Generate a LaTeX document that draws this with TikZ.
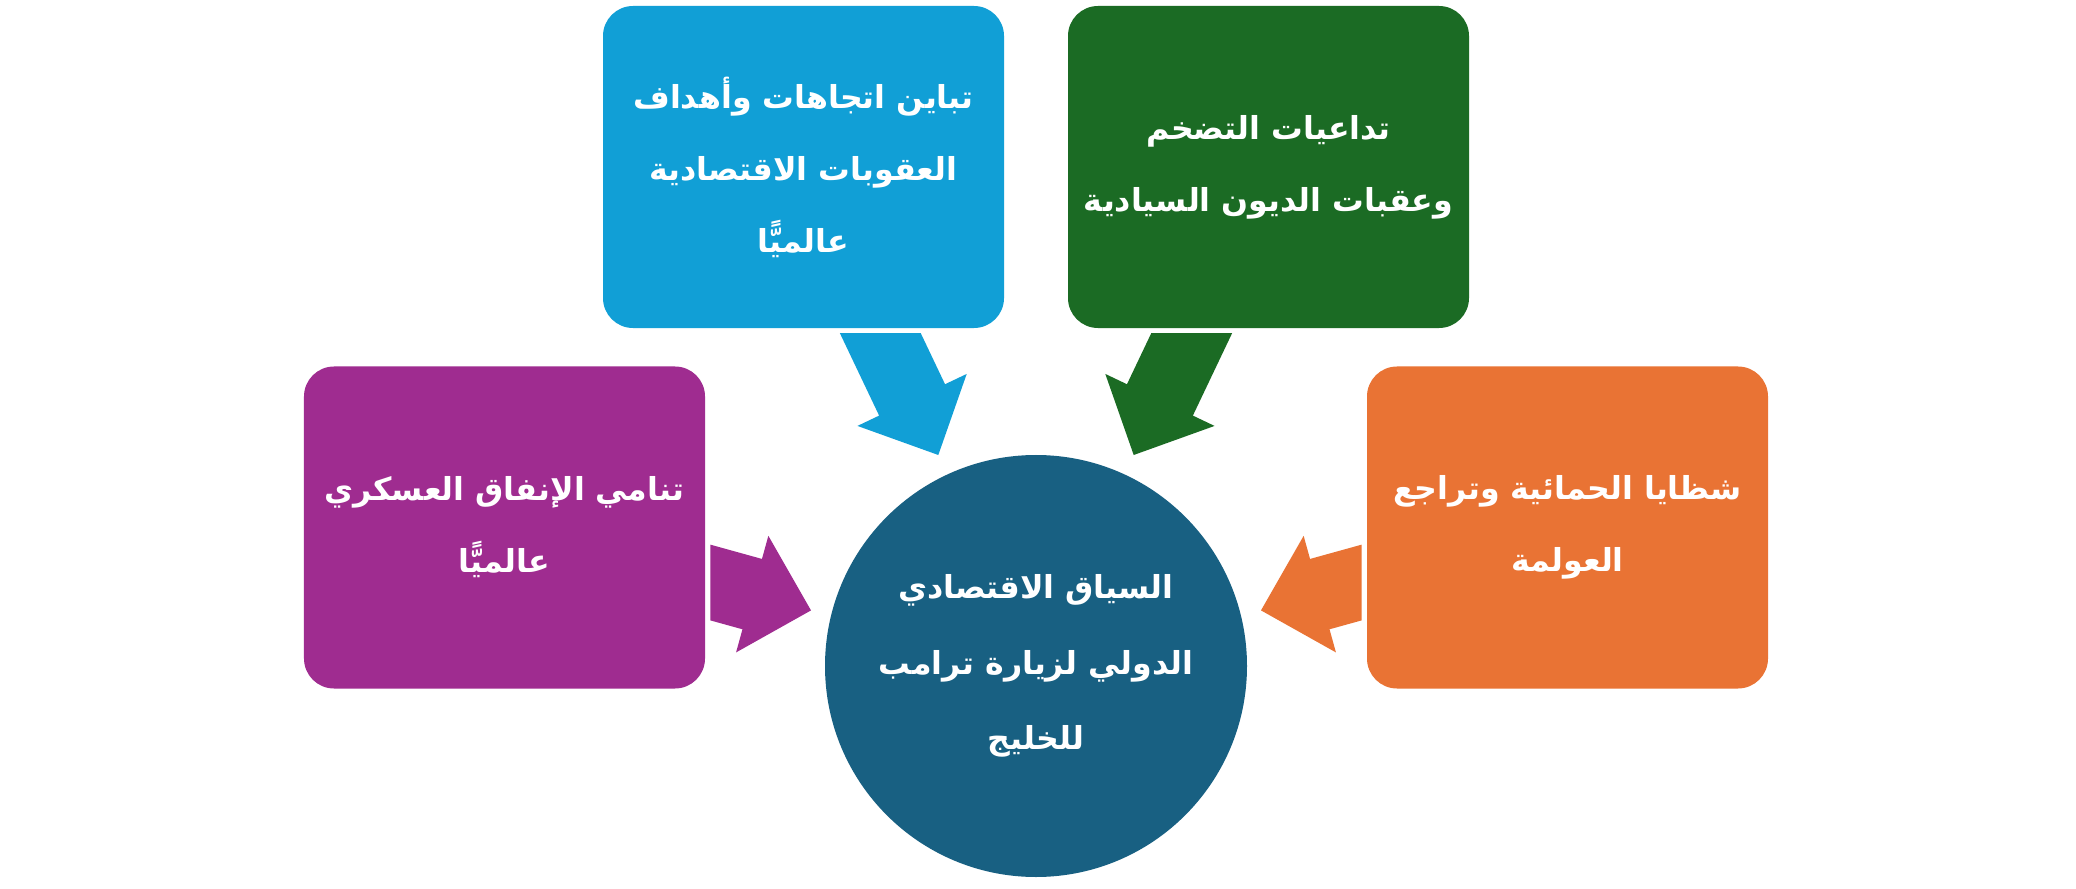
\documentclass[tikz,border=0pt]{standalone}
\usepackage{fontspec}
\usetikzlibrary{calc}
\TeXXeTstate=1
\newfontfamily\arabicfont[Script=Arabic]{DejaVu Sans}
\definecolor{sanccol}{RGB}{17,159,214}
\definecolor{inflcol}{RGB}{27,107,36}
\definecolor{militcol}{RGB}{159,44,144}
\definecolor{globcol}{RGB}{233,115,52}
\definecolor{ctxcol}{RGB}{24,96,130}
\newcommand{\artxt}[1]{\beginR #1\endR}
\newcommand{\shafthw}{7.3mm}
\newcommand{\headhw}{12.1mm}
\newcommand{\headlen}{12.2mm}
% colour, clip corners, tail, tip
\newcommand{\blockarrow}[5]{%
  \begin{scope}
    \clip #2 rectangle #3;
    \coordinate (h) at ($(#5)!\headlen!(#4)$);
    \fill[#1] ($(#4)!\shafthw!90:(#5)$) -- ($(h)!\shafthw!90:(#5)$) -- ($(h)!\headhw!90:(#5)$)
      -- (#5) -- ($(h)!\headhw!-90:(#5)$) -- ($(h)!\shafthw!-90:(#5)$) -- ($(#4)!\shafthw!-90:(#5)$) -- cycle;
  \end{scope}}
\tikzset{
  factor/.style={rectangle, rounded corners=6mm, minimum width=80.2mm, minimum height=64.4mm,
    inner sep=0pt, text=white, align=center, font=\arabicfont\bfseries\fontsize{18}{41}\selectfont},
  hub/.style={circle, fill=ctxcol, minimum size=84.4mm, inner sep=0pt, text=white, align=center,
    font=\arabicfont\bfseries\fontsize{18}{43}\selectfont}
}
\begin{document}
\begin{tikzpicture}[x=0.2mm,y=-0.2mm]
\fill[white] (0,0) rectangle (2076,889);
\useasboundingbox (0,0) rectangle (2076,889);
% centre and the four factors
\node[hub] (ctx) at (1036,666) {\artxt{السياق الاقتصادي}\\ \artxt{الدولي لزيارة ترامب}\\ \artxt{للخليج}};
\node[factor,fill=sanccol] (sanc) at (803.5,167) {\artxt{تباين اتجاهات وأهداف}\\ \artxt{العقوبات الاقتصادية}\\ \artxt{عالميًّا}};
\node[factor,fill=inflcol] (infl) at (1268.5,167) {\artxt{تداعيات التضخم}\\ \artxt{وعقبات الديون السيادية}};
\node[factor,fill=militcol] (milit) at (504.5,527.5) {\artxt{تنامي الإنفاق العسكري}\\ \artxt{عالميًّا}};
\node[factor,fill=globcol] (glob) at (1567.5,527.5) {\artxt{شظايا الحمائية وتراجع}\\ \artxt{العولمة}};
% arrow ends
\coordinate (sanc tail) at (855,280);
\coordinate (sanc tip) at (938.3,455);
\coordinate (infl tail) at (1217,280);
\coordinate (infl tip) at (1133.7,455);
\coordinate (milit tail) at (650,565.8);
\coordinate (milit tip) at (811,610.4);
\coordinate (glob tail) at (1422,565.8);
\coordinate (glob tip) at (1261,610.4);
\blockarrow{sanccol}{($(sanc.south west)+(0,5)$)}{(ctx.south east)}{sanc tail}{sanc tip}
\blockarrow{inflcol}{($(infl.south east)+(0,5)$)}{(ctx.south west)}{infl tail}{infl tip}
\blockarrow{militcol}{($(milit.north east)+(5,0)$)}{(ctx.south)}{milit tail}{milit tip}
\blockarrow{globcol}{($(glob.north west)+(-5,0)$)}{(ctx.south)}{glob tail}{glob tip}
\end{tikzpicture}
\end{document}
